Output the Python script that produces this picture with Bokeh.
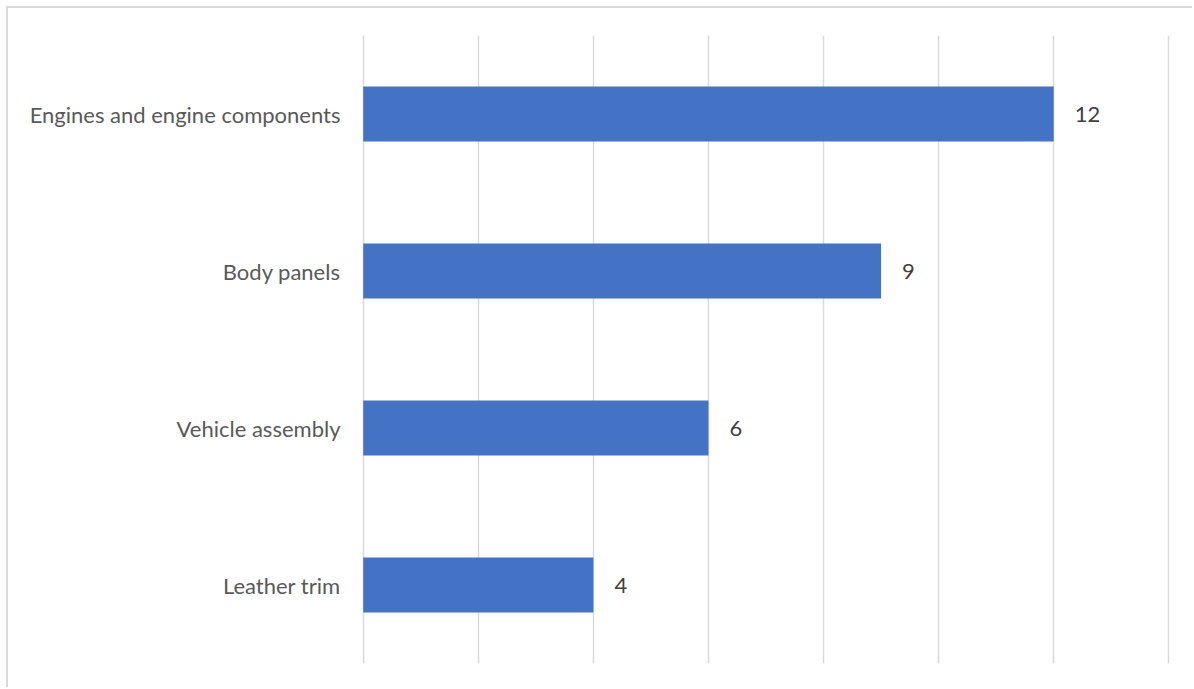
from bokeh.plotting import figure
from bokeh.models import ColumnDataSource, FixedTicker, LabelSet, FactorRange, Range1d
from bokeh.core.properties import value
from bokeh.embed import file_html
from bokeh.resources import INLINE

categories = ["Engines and engine components", "Body panels", "Vehicle assembly", "Leather trim"]
values = [12, 9, 6, 4]
x_ticks = [0, 2, 4, 6, 8, 10, 12, 14]

FONT = "Lato"
src = ColumnDataSource(dict(cat=categories, val=values, lab=[str(v) for v in values]))

p = figure(width=1186, height=681, output_backend="svg", toolbar_location=None,
           y_range=FactorRange(*categories[::-1]), x_range=Range1d(-0.03, 14.03),
           min_border_left=353, min_border_right=24, min_border_top=27, min_border_bottom=26)
p.margin = (6, 0, 0, 6)
p.styles = {"border-left": "2px solid #d9d9d9", "border-top": "2px solid #d9d9d9"}
p.outline_line_color = None
p.hbar(y="cat", right="val", left=0, height=0.35, source=src, color="#4472C4", line_color=None)

p.xaxis.visible = False
p.xgrid.ticker = FixedTicker(ticks=x_ticks)
p.xgrid.grid_line_color = "#d9d9d9"
p.xgrid.grid_line_width = 1.5
p.ygrid.grid_line_color = None

p.yaxis.axis_line_color = None
p.yaxis.major_tick_line_color = None
p.yaxis.minor_tick_line_color = None
p.yaxis.major_label_text_font = FONT
p.yaxis.major_label_text_font_size = "22px"
p.yaxis.major_label_text_color = "#595959"
p.yaxis.major_label_standoff = 15

labels = LabelSet(x="val", y="cat", text="lab", source=src, x_offset=21,
                  text_baseline="middle", text_font=value(FONT), text_font_size="22px",
                  text_color="#404040")
p.add_layout(labels)

open("out.html", "w").write(file_html(p, INLINE))
